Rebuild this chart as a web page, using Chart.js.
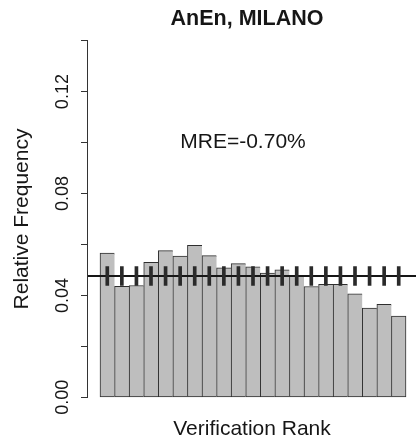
<!DOCTYPE html>
<html><head><meta charset="utf-8">
<script src="https://cdn.jsdelivr.net/npm/chart.js@4"></script>
<style>html,body{margin:0;padding:0;background:#fff}canvas{display:block}</style>
</head><body>
<canvas id="c" width="416" height="442"></canvas>
<script>
// ---- data ----
const ranks = [1,2,3,4,5,6,7,8,9,10,11,12,13,14,15,16,17,18,19,20,21];
const freq = [0.0566,0.0436,0.0439,0.0530,0.0576,0.0554,0.0597,0.0556,0.0508,0.0525,
              0.0512,0.0488,0.0500,0.0478,0.0435,0.0444,0.0444,0.0406,0.0350,0.0365,0.0319];
const expectedFreq = 1/21;
const ciHalfWidth = 0.0037;
const yTickValues = [0,0.02,0.04,0.06,0.08,0.10,0.12,0.14];
const yTickLabels = ['0.00','','0.04','','0.08','','0.12',''];
const titleText = 'AnEn, MILANO';
const mreText = 'MRE=-0.70%';
const xTitle = 'Verification Rank';
const yTitle = 'Relative Frequency';
const X_MIN = -0.3235, X_MAX = 22.186;
const Y_MIN = -0.0056, Y_MAX = 0.1456;

const FONT = '"Liberation Sans", Arial, Helvetica, sans-serif';
const INK = '#161616';

const textPlugin = {
  id: 'texts',
  afterDraw(chart) {
    const ctx = chart.ctx, ys = chart.scales.y, ca = chart.chartArea;
    ctx.save();
    // y axis line from first to last tick
    ctx.strokeStyle = '#333';
    ctx.lineWidth = 1;
    ctx.beginPath();
    const ax = Math.round(ca.left) - 0.5;
    ctx.moveTo(ax, ys.getPixelForValue(yTickValues[0]) + 0.5);
    ctx.lineTo(ax, ys.getPixelForValue(yTickValues[yTickValues.length-1]) - 0.5);
    ctx.stroke();
    ctx.fillStyle = INK;
    ctx.textAlign = 'center';
    ctx.textBaseline = 'middle';
    ctx.font = 'bold 21.5px ' + FONT;
    ctx.fillText(titleText, ca.left + 159, 19);
    ctx.font = '21px ' + FONT;
    ctx.fillText(mreText, ca.left + 155, 142);
    ctx.restore();
  }
};

new Chart(document.getElementById('c'), {
  type: 'bar',
  data: {
    datasets: [
      {
        type: 'bar',
        data: ranks.map((r, i) => ({x: r, y: freq[i]})),
        backgroundColor: '#bebebe',
        borderColor: '#2e2e2e',
        borderWidth: ctx => ({top: 1, bottom: 1, left: 1, right: ctx.dataIndex === ranks.length - 1 ? 1 : 0}),
        borderSkipped: false,
        barPercentage: 1,
        categoryPercentage: 1,
        grouped: false,
        order: 3
      },
      {
        type: 'line',
        data: [{x: X_MIN, y: expectedFreq}, {x: X_MAX, y: expectedFreq}],
        borderColor: INK,
        borderWidth: 2,
        pointRadius: 0,
        order: 2
      },
      {
        type: 'bar',
        data: ranks.map(r => ({x: r, y: [expectedFreq - ciHalfWidth, expectedFreq + ciHalfWidth]})),
        backgroundColor: '#2a2a2a',
        borderWidth: 0,
        barThickness: 3,
        grouped: false,
        order: 1
      }
    ]
  },
  options: {
    responsive: false,
    animation: false,
    devicePixelRatio: 1,
    layout: {padding: {top: 26.4, left: 0, right: 0, bottom: 0}},
    plugins: {legend: {display: false}, tooltip: {enabled: false}, title: {display: false}},
    scales: {
      x: {
        type: 'linear',
        min: X_MIN, max: X_MAX,
        offset: false,
        ticks: {display: false},
        grid: {display: false},
        border: {display: false},
        title: {display: true, text: xTitle, color: INK, font: {family: FONT, size: 21}, padding: {top: 0, bottom: 0}},
        afterFit: s => { s.height = 30.4; s.paddingLeft = 0; s.paddingRight = 0; }
      },
      y: {
        type: 'linear',
        min: Y_MIN, max: Y_MAX,
        afterBuildTicks: s => { s.ticks = yTickValues.map(v => ({value: v})); },
        ticks: {
          autoSkip: false,
          minRotation: 90, maxRotation: 90,
          crossAlign: 'center',
          padding: 0,
          color: INK,
          font: {family: FONT, size: 18},
          callback: (v, i) => yTickLabels[i]
        },
        grid: {display: true, drawOnChartArea: false, drawTicks: true, tickLength: 7, color: '#333', lineWidth: 1},
        border: {display: false},
        title: {display: true, text: yTitle, color: INK, font: {family: FONT, size: 21}, padding: {top: 9.4, bottom: 0}},
        afterFit: s => { s.width = 88; s.paddingTop = 0; s.paddingBottom = 0; }
      }
    }
  },
  plugins: [textPlugin]
});
</script>
</body></html>
